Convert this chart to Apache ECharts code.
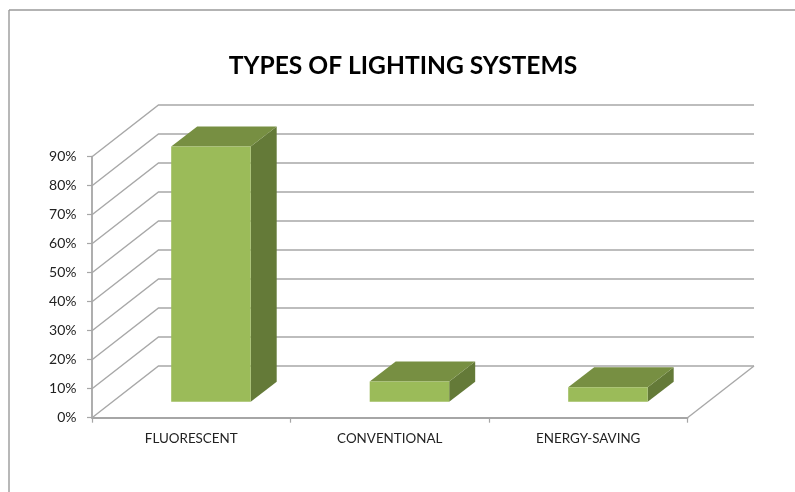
<!DOCTYPE html>
<html>
<head>
<meta charset="utf-8">
<style>html,body{margin:0;padding:0;background:#fff}#c{width:795px;height:492px}</style>
<script src="https://cdn.jsdelivr.net/npm/echarts@6/dist/echarts.min.js"></script>
</head>
<body>
<div id="c"></div>
<script>
const titleText = 'TYPES OF LIGHTING SYSTEMS';
const categories = ['FLUORESCENT', 'CONVENTIONAL', 'ENERGY-SAVING'];
const shares = [88, 7, 5];
const yTicks = [0, 10, 20, 30, 40, 50, 60, 70, 80, 90];

const DEPTH_X = 66.5, DEPTH_Y = 51.7;   // full floor depth
const BAR_FRONT_X = 19.7, BAR_FRONT_Y = 16; // bar front face inset into the floor
const BAR_DX = 26, BAR_DY = 20;         // bar depth
const BAR_W = 79.5;

const chart = echarts.init(document.getElementById('c'), null, {renderer: 'canvas'});

function wallItem(params, api) {
  const v = api.value(1);
  const g = params.coordSys;
  const p = api.coord([0, v]);
  const x0 = g.x, x1 = g.x + g.width, y = p[1];
  const children = [{
    type: 'polyline',
    shape: {points: [[x0, y], [x0 + DEPTH_X, y - DEPTH_Y], [x1 + DEPTH_X, y - DEPTH_Y]]},
    style: {fill: 'none', stroke: '#a8a8a8', lineWidth: 1.4}
  }];
  if (v === 0) {
    children.push({
      type: 'line',
      shape: {x1: x1, y1: y, x2: x1 + DEPTH_X, y2: y - DEPTH_Y},
      style: {stroke: '#a8a8a8', lineWidth: 1.4}
    });
  }
  return {type: 'group', children};
}

function barItem(params, api) {
  const base = api.coord([api.value(0), 0]);
  const top = api.coord([api.value(0), api.value(1)]);
  const xl = base[0] + BAR_FRONT_X - BAR_W / 2, xr = xl + BAR_W;
  const yb = base[1] - BAR_FRONT_Y, yt = top[1] - BAR_FRONT_Y;
  return {type: 'group', children: [
    {type: 'polygon', shape: {points: [[xr, yt], [xr + BAR_DX, yt - BAR_DY], [xr + BAR_DX, yb - BAR_DY], [xr, yb]]},
      style: {fill: '#647a38'}},
    {type: 'polygon', shape: {points: [[xl, yt], [xl + BAR_DX, yt - BAR_DY], [xr + BAR_DX, yt - BAR_DY], [xr, yt]]},
      style: {fill: '#778f42'}},
    {type: 'rect', shape: {x: xl, y: yt, width: BAR_W, height: yb - yt},
      style: {fill: '#9bbb59'}}
  ]};
}

chart.setOption({
  animation: false,
  backgroundColor: '#ffffff',
  title: {
    text: titleText, left: 398, top: 49, textAlign: 'center',
    textStyle: {fontFamily: 'Lato', fontWeight: 'bold', fontSize: 24.6, color: '#000000'}
  },
  grid: {left: 92, right: 107.5, top: 156.7, bottom: 74.3, containLabel: false},
  xAxis: {
    type: 'category', data: categories, boundaryGap: true,
    axisLine: {lineStyle: {color: '#a6a6a6', width: 1.8}},
    axisTick: {show: true, length: 5, inside: false, lineStyle: {color: '#a6a6a6', width: 1.2}},
    axisLabel: {interval: 0, margin: 14, fontFamily: 'Lato', fontSize: 13.4, color: '#222222'}
  },
  yAxis: {
    type: 'value', min: 0, max: 90, interval: 10,
    axisLine: {show: true, lineStyle: {color: '#a6a6a6', width: 1.8}},
    axisTick: {show: true, length: 5, lineStyle: {color: '#a6a6a6', width: 1.2}},
    splitLine: {show: false},
    axisLabel: {formatter: '{value}%', margin: 15.5, fontFamily: 'Lato', fontSize: 14, color: '#222222'}
  },
  graphic: [
    {type: 'line', shape: {x1: 9, y1: 10, x2: 795, y2: 10}, style: {stroke: '#9a9a9a', lineWidth: 1.4}},
    {type: 'line', shape: {x1: 9, y1: 10, x2: 9, y2: 492}, style: {stroke: '#9a9a9a', lineWidth: 1.4}}
  ],
  series: [
    {type: 'custom', coordinateSystem: 'cartesian2d', renderItem: wallItem, silent: true,
      data: yTicks.map(v => [0, v]), encode: {x: 0, y: 1}, z: 1},
    {type: 'custom', coordinateSystem: 'cartesian2d', renderItem: barItem, silent: true,
      data: shares.map((v, i) => [i, v]), encode: {x: 0, y: 1}, z: 2}
  ]
});
</script>
</body>
</html>
